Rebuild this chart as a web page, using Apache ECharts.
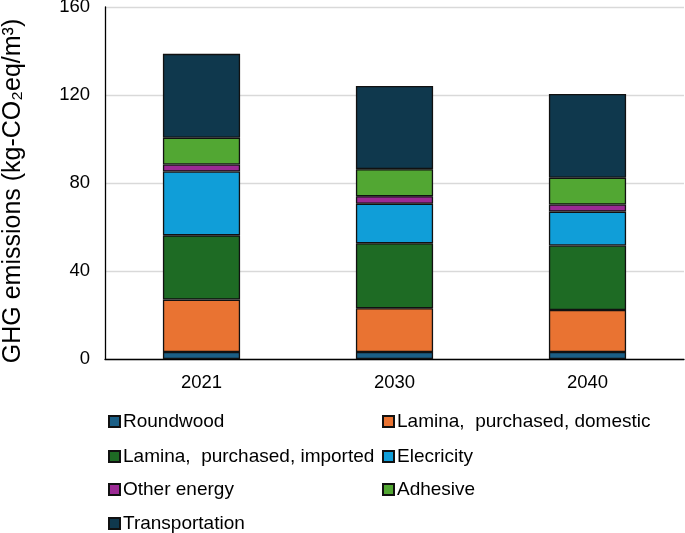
<!DOCTYPE html>
<html><head><meta charset="utf-8">
<script src="https://cdn.jsdelivr.net/npm/echarts@6/dist/echarts.min.js"></script>
<style>html,body{margin:0;padding:0;background:#fff}#c{width:685px;height:533px}</style>
</head><body><div id="c"></div>
<script>
const categories = ['2021', '2030', '2040'];
const seriesNames = ['Roundwood', 'Lamina,  purchased, domestic', 'Lamina,  purchased, imported', 'Elecricity', 'Other energy', 'Adhesive', 'Transportation'];
const roundwood = [3.2, 3.2, 3.2];
const laminaDomestic = [23.8, 19.9, 19.1];
const laminaImported = [29.2, 29.5, 29.3];
const electricity = [29.0, 18.0, 15.4];
const otherEnergy = [3.2, 3.4, 3.2];
const adhesive = [12.2, 12.3, 12.2];
const transportation = [38.1, 37.8, 38.1];
const yTicks = [0, 40, 80, 120, 160];

const values = [roundwood, laminaDomestic, laminaImported, electricity, otherEnergy, adhesive, transportation];
const colors = ['#1b5f86', '#e97332', '#1e6b24', '#109ed8', '#9b2a94', '#52a733', '#0f384d'];
const legendPos = [[108, 412], [382, 412], [108, 447], [382, 447], [108, 480], [382, 480], [108, 514]];

const chart = echarts.init(document.getElementById('c'));
const font = 'Liberation Sans, Arial, sans-serif';
chart.setOption({
  animation: false,
  grid: { left: 105, right: 1, top: 7, bottom: 174, containLabel: false, outerBoundsMode: 'none' },
  xAxis: {
    type: 'category', data: categories,
    axisLine: { lineStyle: { color: '#000', width: 1.3 } },
    axisTick: { show: false },
    axisLabel: { color: '#000', fontSize: 18.5, fontFamily: font, margin: 14 }
  },
  yAxis: {
    type: 'value', min: yTicks[0], max: yTicks[yTicks.length - 1], interval: 40,
    name: 'GHG emissions (kg-CO₂eq/m³)', nameLocation: 'middle', nameGap: 79,
    nameTextStyle: { color: '#000', fontSize: 25, fontFamily: font, padding: [0, 16, 0, 0] },
    axisLine: { show: true, lineStyle: { color: '#000', width: 1.3 } },
    axisTick: { show: false },
    splitLine: { lineStyle: { color: '#d9d9d9', width: 1.3 } },
    axisLabel: { color: '#000', fontSize: 18.5, fontFamily: font, margin: 15 }
  },
  legend: seriesNames.map((n, i) => ({
    data: [n], left: legendPos[i][0], top: legendPos[i][1], padding: 0,
    icon: 'rect', itemWidth: 11, itemHeight: 11, itemGap: 4,
    textStyle: { color: '#000', fontSize: 19, fontFamily: font, padding: [0, 0, 0, -2] },
    selectedMode: false
  })),
  series: seriesNames.map((n, i) => ({
    name: n, type: 'bar', stack: 'total', data: values[i], barWidth: '40%',
    itemStyle: { color: colors[i], borderColor: '#111', borderWidth: 1.3 }
  }))
});
</script></body></html>
